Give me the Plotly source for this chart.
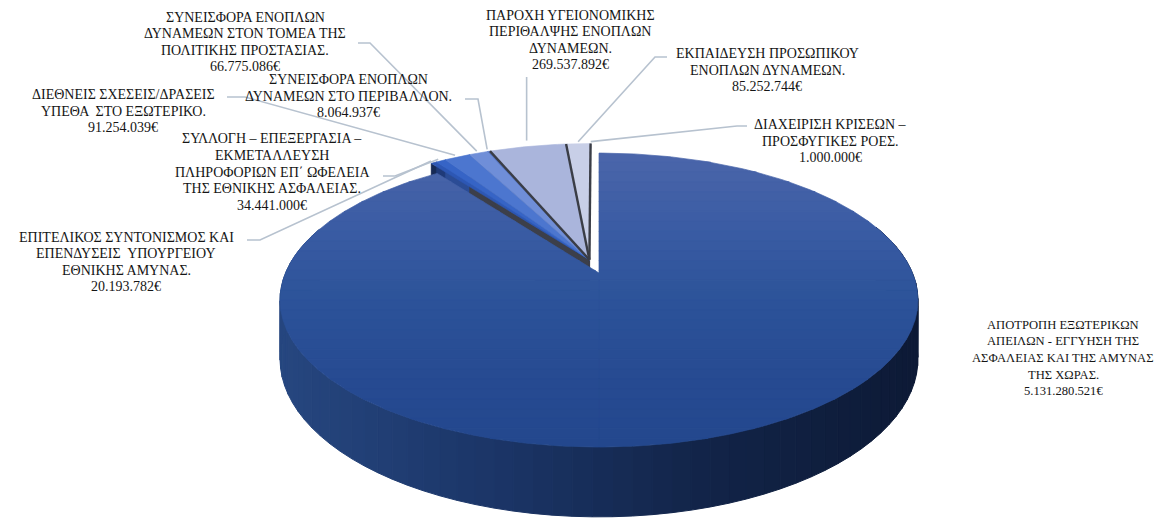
import numpy as np
import plotly.graph_objects as go

# ---------------- data ----------------
categories = [
    "ΑΠΟΤΡΟΠΗ ΕΞΩΤΕΡΙΚΩΝ<br>ΑΠΕΙΛΩΝ - ΕΓΓΥΗΣΗ ΤΗΣ<br>ΑΣΦΑΛΕΙΑΣ ΚΑΙ ΤΗΣ ΑΜΥΝΑΣ<br>ΤΗΣ ΧΩΡΑΣ.",
    "ΕΠΙΤΕΛΙΚΟΣ ΣΥΝΤΟΝΙΣΜΟΣ ΚΑΙ<br>ΕΠΕΝΔΥΣΕΙΣ  ΥΠΟΥΡΓΕΙΟΥ<br>ΕΘΝΙΚΗΣ ΑΜΥΝΑΣ.",
    "ΣΥΛΛΟΓΗ – ΕΠΕΞΕΡΓΑΣΙΑ –<br>ΕΚΜΕΤΑΛΛΕΥΣΗ<br>ΠΛΗΡΟΦΟΡΙΩΝ ΕΠ΄ ΩΦΕΛΕΙΑ<br>ΤΗΣ ΕΘΝΙΚΗΣ ΑΣΦΑΛΕΙΑΣ.",
    "ΔΙΕΘΝΕΙΣ ΣΧΕΣΕΙΣ/ΔΡΑΣΕΙΣ<br>ΥΠΕΘΑ  ΣΤΟ ΕΞΩΤΕΡΙΚΟ.",
    "ΣΥΝΕΙΣΦΟΡΑ ΕΝΟΠΛΩΝ<br>ΔΥΝΑΜΕΩΝ ΣΤΟΝ ΤΟΜΕΑ ΤΗΣ<br>ΠΟΛΙΤΙΚΗΣ ΠΡΟΣΤΑΣΙΑΣ.",
    "ΣΥΝΕΙΣΦΟΡΑ ΕΝΟΠΛΩΝ<br>ΔΥΝΑΜΕΩΝ ΣΤΟ ΠΕΡΙΒΑΛΛΟΝ.",
    "ΠΑΡΟΧΗ ΥΓΕΙΟΝΟΜΙΚΗΣ<br>ΠΕΡΙΘΑΛΨΗΣ ΕΝΟΠΛΩΝ<br>ΔΥΝΑΜΕΩΝ.",
    "ΕΚΠΑΙΔΕΥΣΗ ΠΡΟΣΩΠΙΚΟΥ<br>ΕΝΟΠΛΩΝ ΔΥΝΑΜΕΩΝ.",
    "ΔΙΑΧΕΙΡΙΣΗ ΚΡΙΣΕΩΝ –<br>ΠΡΟΣΦΥΓΙΚΕΣ ΡΟΕΣ.",
]
values = [5131280521, 20193782, 34441000, 91254039, 66775086,
          8064937, 269537892, 85252744, 1000000]

# ---------------- style / layout ----------------
top_colors = ["#2b5198", "#2d57b4", "#3664c6", "#4c76cf", "#6f8ed8",
              "#5a7cd0", "#aab5dc", "#c8cfe7", "#dfe3f1"]
face_colors = ["#0f1e3d", "#162a55", "#1f3a78", "#2b4c95", "#3c3f4a",
               "#3c3f4a", "#3c3f4a", "#3c3f4a", "#3c3f4a"]
explode = [0, 0.1, 0.1, 0.1, 0.1, 0.1, 0.1, 0.1, 0.1]

label_pos = [(1063, 358), (126, 262), (272, 172), (123, 111), (245, 42),
             (348, 96), (570, 40), (767, 70), (830, 141)]
label_size = [12.6, 14, 14, 14, 14, 14, 14, 14, 14]
LINE_H = 16.6
leader_start = [None, [(247, 240), (260, 240)], [(383, 176), (395, 176)],
                [(227, 97), (245, 97)], [(358, 43), (370, 43)],
                [(465, 99), (478, 99)], "vertical",
                [(667, 57), (655, 57)], [(747, 126), (737, 126)]]

CX, CY = 599.0, 273.0
A, B, P = 313.5, 142.0, 0.184
D = 57.0
W, H = 1161, 520
FONT = "Liberation Serif"


def proj(u, v, z=0.0):
    w = 1 - P * v
    return CX + A * u / w, CY + (B * v + D * z) / w


def disk(phi_deg, r=1.0):
    ph = np.radians(phi_deg)
    return r * np.sin(ph), -r * np.cos(ph)


def hex2rgb(h):
    h = h.lstrip("#")
    return np.array([int(h[i:i + 2], 16) for i in (0, 2, 4)], float)


def lerp_color(stops, t):
    t = min(max(t, 0), 1)
    n = len(stops) - 1
    i = min(int(t * n), n - 1)
    f = t * n - i
    c = hex2rgb(stops[i]) * (1 - f) + hex2rgb(stops[i + 1]) * f
    return "rgb(%d,%d,%d)" % tuple(np.round(c))


def clip_band(poly, y0, y1):
    def half(pts, keep, yc):
        out = []
        for i in range(len(pts)):
            cur, prev = pts[i], pts[i - 1]
            kc, kp = keep(cur), keep(prev)
            if kc:
                if not kp:
                    t = (yc - prev[1]) / (cur[1] - prev[1])
                    out.append((prev[0] + t * (cur[0] - prev[0]), yc))
                out.append(cur)
            elif kp:
                t = (yc - prev[1]) / (cur[1] - prev[1])
                out.append((prev[0] + t * (cur[0] - prev[0]), yc))
        return out
    pts = half(poly, lambda p: p[1] >= y0, y0)
    if len(pts) < 3:
        return []
    pts = half(pts, lambda p: p[1] <= y1, y1)
    return pts if len(pts) >= 3 else []


total = float(sum(values))
angles = np.array(values) / total * 360.0
starts = np.concatenate([[0], np.cumsum(angles)[:-1]])
ends = np.cumsum(angles)
# the small slices are pulled out together, along the middle of their group
group_mid = (starts[1] + ends[-1]) / 2

fig = go.Figure()


def add_poly(xs, ys, color, lw=0.8, lcolor=None):
    fig.add_trace(go.Scatter(
        x=list(xs) + [xs[0]], y=list(ys) + [ys[0]], mode="lines",
        fill="toself", fillcolor=color,
        line=dict(color=lcolor or color, width=lw), hoverinfo="skip"))


def slice_geom(i):
    s, e = starts[i], ends[i]
    mid = (s + e) / 2
    ou, ov = disk(group_mid if i > 0 else mid, explode[i])
    n = max(2, int((e - s) / 0.5) + 2)
    phis = np.linspace(s, e, n)
    return s, e, mid, ou, ov, phis


# ---- small slices: start faces first, then tops ----
for i in range(1, len(values)):
    s, e, mid, ou, ov, phis = slice_geom(i)
    u, v = disk(s)
    pts = [proj(ou, ov, 0), proj(ou + u, ov + v, 0),
           proj(ou + u, ov + v, 1), proj(ou, ov, 1)]
    add_poly([p[0] for p in pts], [p[1] for p in pts], face_colors[i], lw=0.5)

for i in range(1, len(values)):
    s, e, mid, ou, ov, phis = slice_geom(i)
    pts = [proj(ou, ov)]
    for ph in phis:
        u, v = disk(ph)
        pts.append(proj(ou + u, ov + v))
    add_poly([p[0] for p in pts], [p[1] for p in pts], top_colors[i], lw=0.6)

# dark edges on the left side of the light slices
for i in range(6, len(values)):
    s, e, mid, ou, ov, phis = slice_geom(i)
    u, v = disk(s)
    p0, p1 = proj(ou, ov), proj(ou + u, ov + v)
    fig.add_trace(go.Scatter(x=[p0[0], p1[0]], y=[p0[1], p1[1]], mode="lines",
                             line=dict(color="#3a3d46", width=2.4),
                             hoverinfo="skip"))

# ---- main slice side (gradient strips) ----
side_stops = ["#26467f", "#1b3567", "#122448", "#0d1a36"]
s0, e0 = starts[0], ends[0]
strip_edges = np.arange(max(s0, 70), min(e0, 290) + 0.01, 3.0)
for a1, a2 in zip(strip_edges[:-1], strip_edges[1:]):
    ph = np.linspace(a1, a2, 4)
    topp = [proj(*disk(p), 0) for p in ph]
    botp = [proj(*disk(p), 1) for p in ph[::-1]]
    pts = topp + botp
    xm = np.mean([p[0] for p in topp])
    col = lerp_color(side_stops, (xm - 285) / (915 - 285))
    add_poly([p[0] for p in pts], [p[1] for p in pts], col, lw=1.0)

# ---- main slice top (vertical gradient bands, convex sub-sectors) ----
pieces = []
cuts = [s0, min(180.0, e0), e0]
for a1, a2 in zip(cuts[:-1], cuts[1:]):
    if a2 > a1:
        ph = np.linspace(a1, a2, 240)
        pieces.append([proj(0, 0)] + [proj(*disk(p)) for p in ph])
allys = [p[1] for pc in pieces for p in pc]
ymin, ymax = min(allys), max(allys)
top_stops = ["#4b66aa", "#3b5ca4", "#2c5399", "#274b92", "#23478d"]
nb = 30
edges = np.linspace(ymin - 1, ymax + 1, nb + 1)
for k in range(nb):
    col = lerp_color(top_stops, (k + 0.5) / nb)
    for pc in pieces:
        band = clip_band(pc, edges[k], edges[k + 1] + 0.5)
        if band:
            add_poly([p[0] for p in band], [p[1] for p in band], col, lw=0.7)

# ---- leader lines ----
for i in range(1, len(values)):
    s, e, mid, ou, ov, phis_ = slice_geom(i)
    u, v = disk(mid)
    ex, ey = proj(ou + u * 1.02, ov + v * 1.02)
    ls = leader_start[i]
    if ls == "vertical":
        xs, ys_ = [ex, ex], [77, ey - 4]
    else:
        xs = [ls[0][0], ls[1][0], ex]
        ys_ = [ls[0][1], ls[1][1], ey]
    fig.add_trace(go.Scatter(x=xs, y=ys_, mode="lines",
                             line=dict(color="#b7c2cf", width=1.6),
                             hoverinfo="skip"))

# ---- labels (one annotation per line for exact line spacing) ----
for i, (cat, val) in enumerate(zip(categories, values)):
    lines = cat.split("<br>") + [f"{val:,}".replace(",", ".") + "€"]
    x, yc = label_pos[i]
    n = len(lines)
    for j, ln in enumerate(lines):
        y = yc + (j - (n - 1) / 2) * LINE_H
        fig.add_annotation(x=x, y=y, xref="x", yref="y", text=ln,
                           showarrow=False, align="center",
                           xanchor="center", yanchor="middle",
                           font=dict(family=FONT, size=label_size[i],
                                     color="#151515"))

fig.update_layout(
    width=W, height=H, margin=dict(l=0, r=0, t=0, b=0),
    paper_bgcolor="white", plot_bgcolor="white", showlegend=False,
    font=dict(family=FONT),
    xaxis=dict(range=[0, W], visible=False, fixedrange=True),
    yaxis=dict(range=[H, 0], visible=False, fixedrange=True),
)
fig.write_html("out.html", config={"displayModeBar": False})

# remove default page margin so the figure sits at the window origin
with open("out.html", encoding="utf-8") as f:
    html = f.read()
html = html.replace("<head>", "<head><style>html,body{margin:0;padding:0;overflow:hidden}</style>", 1)
with open("out.html", "w", encoding="utf-8") as f:
    f.write(html)
